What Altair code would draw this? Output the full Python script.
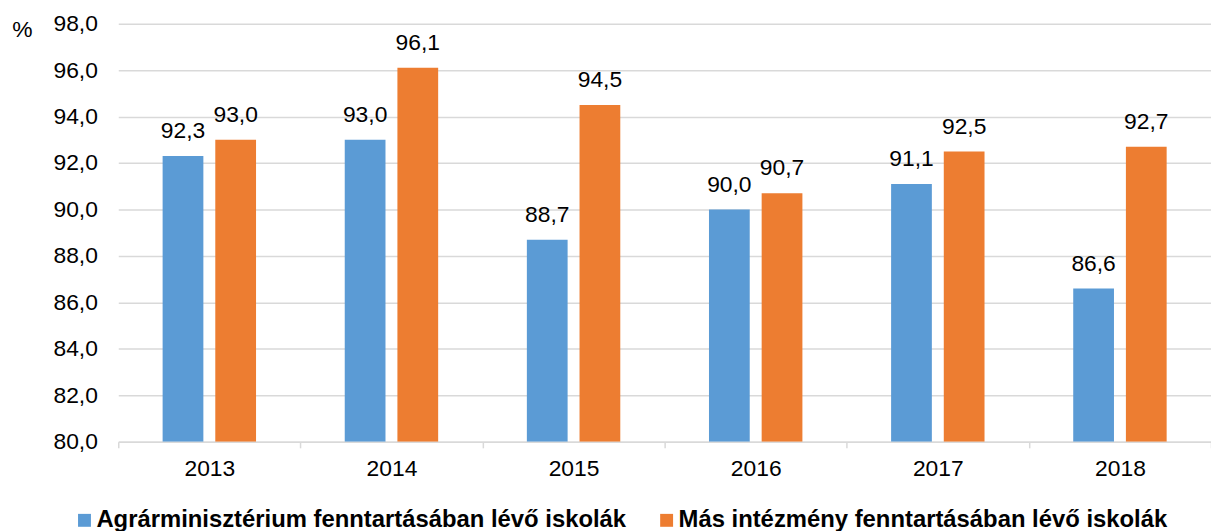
import altair as alt
import pandas as pd

years = ["2013", "2014", "2015", "2016", "2017", "2018"]
series_names = [
    "Agrárminisztérium fenntartásában lévő iskolák",
    "Más intézmény fenntartásában lévő iskolák",
]
agrar = [92.3, 93.0, 88.7, 90.0, 91.1, 86.6]
mas = [93.0, 96.1, 94.5, 90.7, 92.5, 92.7]
y_ticks = [80, 82, 84, 86, 88, 90, 92, 94, 96, 98]
colors = ["#5B9BD5", "#ED7D31"]

rows = []
for i, y in enumerate(years):
    rows.append({"year": y, "series": series_names[0], "value": agrar[i]})
    rows.append({"year": y, "series": series_names[1], "value": mas[i]})
df = pd.DataFrame(rows)

FONT = "Liberation Sans"

base = alt.Chart(df).encode(
    x=alt.X(
        "year:N",
        sort=years,
        scale=alt.Scale(paddingInner=0, paddingOuter=0),
        axis=alt.Axis(
            title=None,
            labelAngle=0,
            labelFontSize=23,
            labelFont=FONT,
            labelColor="#000000",
            labelPadding=10,
            domainColor="#d9d9d9",
            domainWidth=1.5,
            tickColor="#d9d9d9",
            tickWidth=1.5,
            tickSize=6,
            tickBand="extent",
            grid=False,
        ),
    ),
    xOffset=alt.XOffset(
        "series:N",
        sort=series_names,
        scale=alt.Scale(paddingInner=0.2264, paddingOuter=0.842),
    ),
)

bars = base.mark_bar(clip=True).encode(
    y=alt.Y(
        "value:Q",
        scale=alt.Scale(domain=[80, 98], nice=False, zero=False),
        axis=alt.Axis(
            values=y_ticks,
            labelExpr="replace(format(datum.value, '.1f'), '.', ',')",
            labelFontSize=23,
            labelFont=FONT,
            labelColor="#000000",
            labelPadding=21,
            ticks=False,
            domain=False,
            gridColor="#d9d9d9",
            gridWidth=1.5,
            title="%",
            titleAngle=0,
            titleFont=FONT,
            titleFontSize=23,
            titleFontWeight="normal",
            titleColor="#000000",
            titleAlign="center",
            titleBaseline="alphabetic",
            titleX=-97,
            titleY=13,
        ),
    ),
    y2=alt.datum(80),
    color=alt.Color(
        "series:N",
        sort=series_names,
        scale=alt.Scale(domain=series_names, range=colors),
        legend=alt.Legend(
            title=None,
            orient="none",
            direction="horizontal",
            legendX=-46,
            legendY=488,
            symbolType="square",
            symbolSize=169,
            symbolStrokeWidth=0,
            labelFont=FONT,
            labelFontSize=24,
            labelFontWeight="bold",
            labelColor="#000000",
            labelLimit=1000,
            labelOffset=0,
            columnPadding=28,
            padding=0,
        ),
    ),
)

labels = base.transform_calculate(
    label="replace(format(datum.value, '.1f'), '.', ',')"
).mark_text(
    font=FONT, fontSize=23, color="#000000", baseline="alphabetic", dy=-18
).encode(
    y=alt.Y("value:Q"),
    text="label:N",
)

chart = (
    alt.layer(bars, labels)
    .properties(
        width=1100,
        height=421,
        autosize=alt.AutoSizeParams(type="none"),
        padding={"left": 111, "top": 14, "right": 0, "bottom": 88},
    )
    .configure_view(stroke=None)
)

chart.save("out.html", embed_options={"renderer": "svg", "actions": False})
